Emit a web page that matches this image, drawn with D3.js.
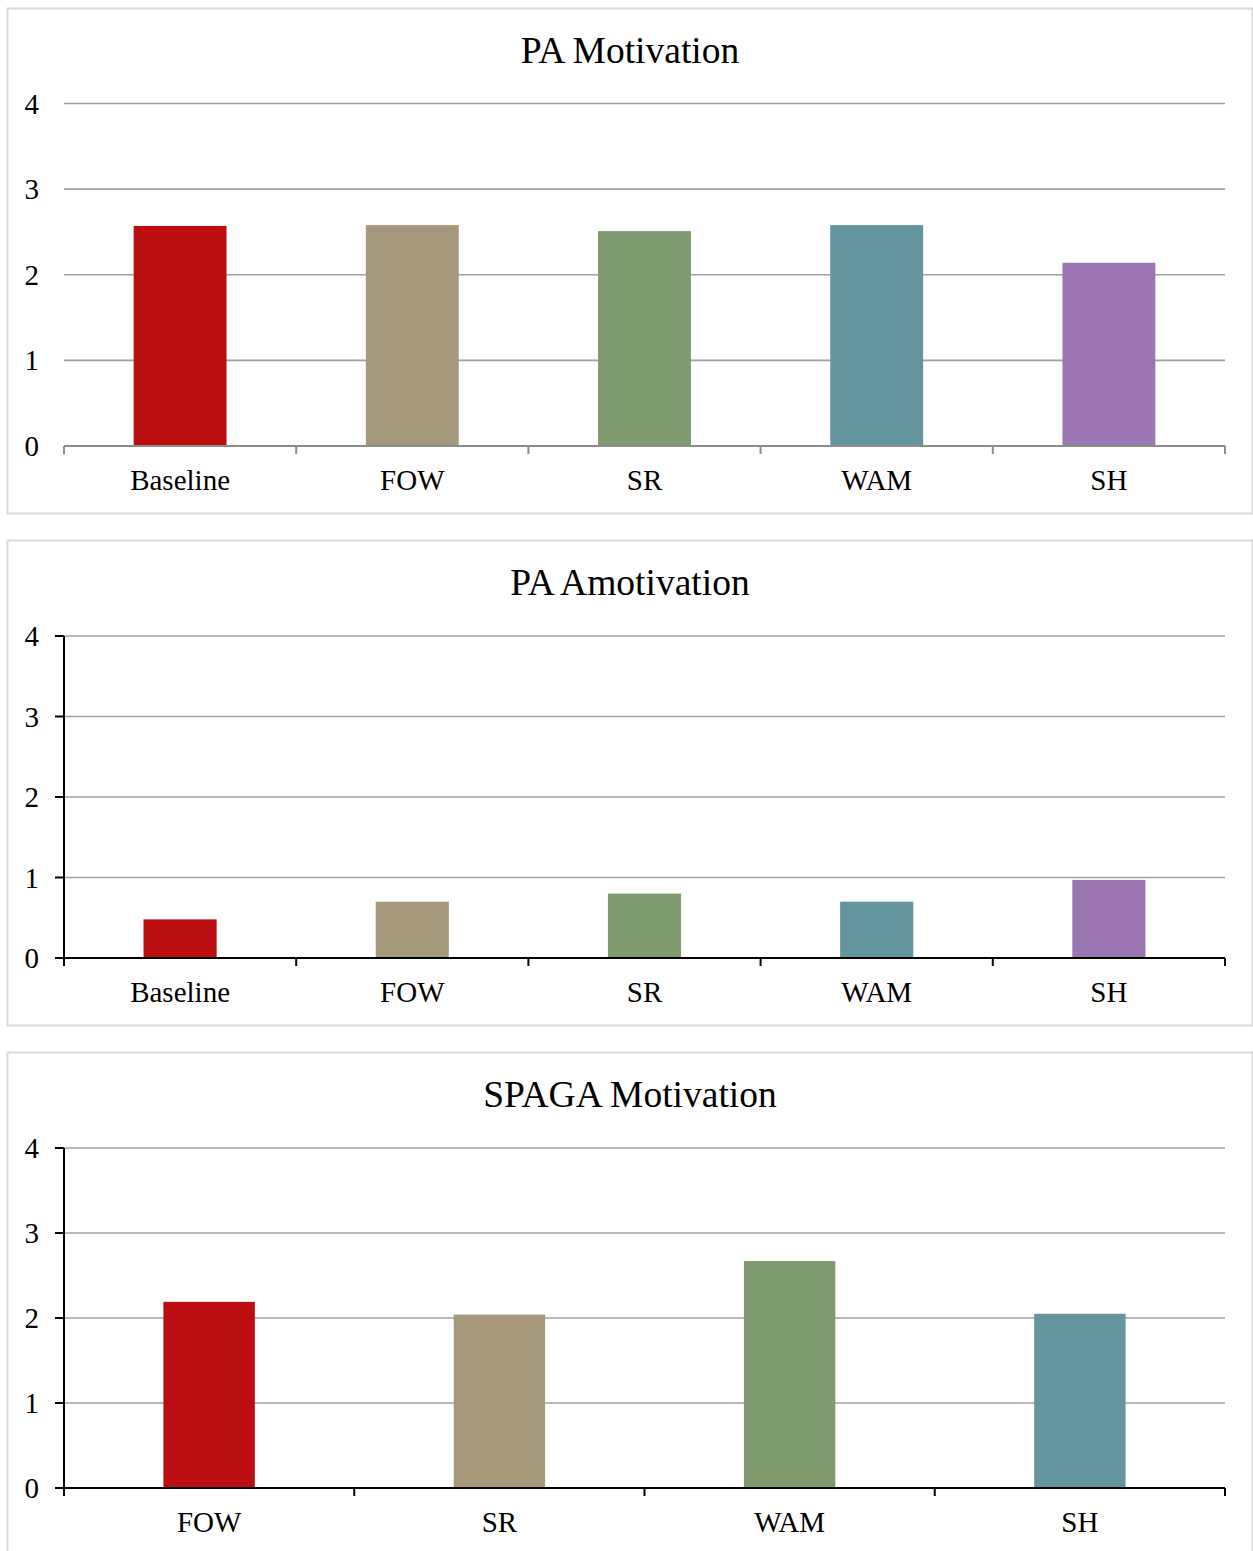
<!DOCTYPE html>
<html>
<head>
<meta charset="utf-8">
<script src="https://cdn.jsdelivr.net/npm/d3@7"></script>
<style>
  body { margin: 0; background: #fff; }
  svg text { font-family: "Liberation Serif", "Times New Roman", serif; fill: #000; }
</style>
</head>
<body>
<div id="chart"></div>
<script>
// data
var cats1 = ['Baseline', 'FOW', 'SR', 'WAM', 'SH'];
var paMotivation = [2.57, 2.58, 2.51, 2.58, 2.14];

var cats2 = ['Baseline', 'FOW', 'SR', 'WAM', 'SH'];
var paAmotivation = [0.48, 0.70, 0.80, 0.70, 0.97];

var cats3 = ['FOW', 'SR', 'WAM', 'SH'];
var spagaMotivation = [2.19, 2.04, 2.67, 2.05];

var yTicks = [0, 1, 2, 3, 4];
var colors = ['#ba0e10', '#a6987a', '#7f9a6e', '#64959e', '#9b76b2'];

var W = 1253, H = 1551;
var svg = d3.select('#chart').append('svg').attr('width', W).attr('height', H);

// panel settings
var panels = [
  { title: 'PA Motivation', cats: cats1, vals: paMotivation, box: [8, 513], top: 103.5, bottom: 446, barFrac: 0.40, axisColor: '#8c8c8c', yAxis: false },
  { title: 'PA Amotivation', cats: cats2, vals: paAmotivation, box: [540, 1025], top: 636, bottom: 958, barFrac: 0.315, axisColor: '#000', yAxis: true },
  { title: 'SPAGA Motivation', cats: cats3, vals: spagaMotivation, box: [1052, 1580], top: 1148, bottom: 1488, barFrac: 0.315, axisColor: '#000', yAxis: true }
];

var left = 64, right = 1225;

panels.forEach(function (p) {
  var g = svg.append('g');

  // panel frame
  g.append('rect')
    .attr('x', 7.5).attr('y', p.box[0] + 0.5)
    .attr('width', 1245).attr('height', p.box[1] - p.box[0])
    .attr('fill', '#fff').attr('stroke', '#d9d9d9').attr('stroke-width', 2);

  g.append('text')
    .attr('x', 630).attr('y', p.top - 41)
    .attr('text-anchor', 'middle')
    .attr('font-size', 37.5)
    .text(p.title);

  var x = d3.scaleBand().domain(p.cats).range([left, right]);
  var y = d3.scaleLinear().domain([0, 4]).range([p.bottom, p.top]);

  // gridlines
  g.selectAll('.grid').data(yTicks.filter(function (d) { return d > 0; }))
    .enter().append('line')
    .attr('x1', left).attr('x2', right)
    .attr('y1', function (d) { return y(d); }).attr('y2', function (d) { return y(d); })
    .attr('stroke', '#a0a0a0').attr('stroke-width', 1.6);

  // y labels
  g.selectAll('.ylab').data(yTicks)
    .enter().append('text')
    .attr('x', 39).attr('y', function (d) { return y(d) + 10; })
    .attr('text-anchor', 'end')
    .attr('font-size', 29)
    .text(function (d) { return d; });

  // bars
  g.selectAll('.bar').data(p.vals)
    .enter().append('rect')
    .attr('x', function (d, i) { return x(p.cats[i]) + x.bandwidth() * (1 - p.barFrac) / 2; })
    .attr('width', x.bandwidth() * p.barFrac)
    .attr('y', function (d) { return y(d); })
    .attr('height', function (d) { return y(0) - y(d); })
    .attr('fill', function (d, i) { return colors[i]; });

  // y axis line + ticks
  if (p.yAxis) {
    g.append('line')
      .attr('x1', left).attr('x2', left)
      .attr('y1', p.top).attr('y2', p.bottom + 8)
      .attr('stroke', '#000').attr('stroke-width', 2);
    g.selectAll('.ytick').data(yTicks)
      .enter().append('line')
      .attr('x1', left - 9).attr('x2', left)
      .attr('y1', function (d) { return y(d); }).attr('y2', function (d) { return y(d); })
      .attr('stroke', '#000').attr('stroke-width', 2);
  }

  // x axis line
  g.append('line')
    .attr('x1', left).attr('x2', right)
    .attr('y1', p.bottom).attr('y2', p.bottom)
    .attr('stroke', p.axisColor).attr('stroke-width', 2);

  // x ticks at band boundaries
  var bounds = p.cats.map(function (c) { return x(c); }).concat([right]);
  g.selectAll('.xtick').data(bounds)
    .enter().append('line')
    .attr('x1', function (d) { return d; }).attr('x2', function (d) { return d; })
    .attr('y1', p.bottom).attr('y2', p.bottom + 8)
    .attr('stroke', p.axisColor).attr('stroke-width', 2);

  // x labels
  g.selectAll('.xlab').data(p.cats)
    .enter().append('text')
    .attr('x', function (d) { return x(d) + x.bandwidth() / 2; })
    .attr('y', p.bottom + 44)
    .attr('text-anchor', 'middle')
    .attr('font-size', 29)
    .text(function (d) { return d; });
});
</script>
</body>
</html>
